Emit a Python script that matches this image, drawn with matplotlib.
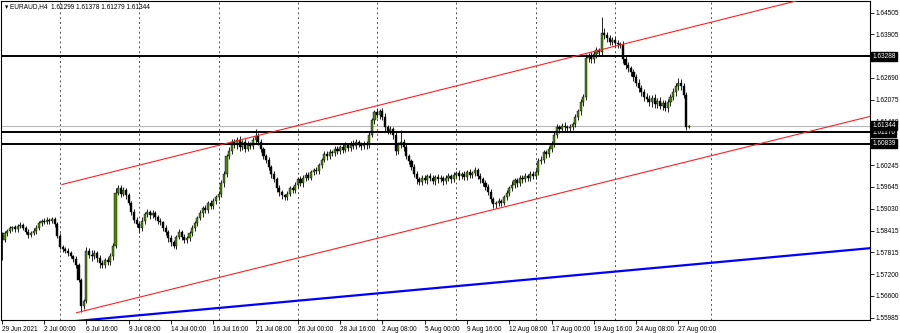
import matplotlib
matplotlib.use("Agg")
import matplotlib.pyplot as plt
import numpy as np

# ---------------------------------------------------------------
# EURAUD H4 - velas (29 Jun 08:00 -> 27 Aug 16:00)
# ---------------------------------------------------------------
first_open = 1.5830

closes = [
    1.5815, 1.5835, 1.5840, 1.5848, 1.5852, 1.5845, 1.5855, 1.5858, 1.5850, 1.5838,
    1.5830, 1.5835, 1.5842, 1.5850, 1.5862, 1.5870, 1.5866, 1.5872, 1.5868, 1.5874,
    1.5860, 1.5828, 1.5795, 1.5790, 1.5785, 1.5778, 1.5770, 1.5762, 1.5745, 1.5705,
    1.5630, 1.5645, 1.5785, 1.5775, 1.5770, 1.5778, 1.5765, 1.5752, 1.5745, 1.5760,
    1.5755, 1.5770, 1.5800, 1.5948, 1.5960, 1.5945, 1.5955, 1.5940, 1.5920, 1.5895,
    1.5872, 1.5860, 1.5848, 1.5870, 1.5888, 1.5895, 1.5885, 1.5890, 1.5880, 1.5870,
    1.5865, 1.5850, 1.5838, 1.5820, 1.5810, 1.5800, 1.5825, 1.5838, 1.5825, 1.5815,
    1.5822, 1.5835, 1.5850, 1.5862, 1.5878, 1.5890, 1.5905, 1.5900, 1.5918, 1.5910,
    1.5925, 1.5935, 1.5945, 1.5975, 1.6000, 1.6050, 1.6065, 1.6090, 1.6080, 1.6095,
    1.6075, 1.6088, 1.6070, 1.6082, 1.6078, 1.6095, 1.6105, 1.6090, 1.6070, 1.6050,
    1.6040, 1.6020, 1.6000, 1.5985, 1.5960, 1.5950, 1.5940, 1.5935, 1.5945, 1.5960,
    1.5955, 1.5970, 1.5985, 1.5975, 1.5990, 1.5998, 1.5990, 1.6005, 1.6012, 1.6008,
    1.6025, 1.6040, 1.6055, 1.6050, 1.6062, 1.6058, 1.6070, 1.6065, 1.6075, 1.6068,
    1.6080, 1.6072, 1.6085, 1.6078, 1.6090, 1.6082, 1.6078, 1.6085, 1.6080, 1.6110,
    1.6150, 1.6172, 1.6165, 1.6175, 1.6160, 1.6130, 1.6120, 1.6125, 1.6110, 1.6065,
    1.6080, 1.6090, 1.6075, 1.6050, 1.6035, 1.6020, 1.6000, 1.5985, 1.5978, 1.5990,
    1.5982, 1.5995, 1.5988, 1.5980, 1.5992, 1.5985, 1.5990, 1.5980, 1.5988, 1.5995,
    1.5985, 1.5998, 1.6002, 1.5995, 1.6000, 1.5992, 1.6005, 1.5998, 1.6003, 1.6010,
    1.5995, 1.5985, 1.5975, 1.5965, 1.5950, 1.5930, 1.5915, 1.5918, 1.5925, 1.5920,
    1.5935, 1.5948, 1.5960, 1.5970, 1.5982, 1.5975, 1.5990, 1.5985, 1.5995, 1.5990,
    1.6000, 1.5995, 1.6005, 1.6035, 1.6040, 1.6060, 1.6055, 1.6070, 1.6085, 1.6110,
    1.6130, 1.6125, 1.6135, 1.6130, 1.6128, 1.6132, 1.6140, 1.6160, 1.6175, 1.6200,
    1.6215, 1.6325, 1.6330, 1.6320, 1.6335, 1.6345, 1.6340, 1.6395, 1.6388, 1.6380,
    1.6370, 1.6375, 1.6365, 1.6362, 1.6360, 1.6320, 1.6305, 1.6295, 1.6285, 1.6270,
    1.6255, 1.6240, 1.6228, 1.6215, 1.6210, 1.6200, 1.6212, 1.6195, 1.6205, 1.6190,
    1.6198, 1.6185, 1.6200, 1.6215, 1.6230, 1.6245, 1.6255, 1.6245, 1.6220, 1.61299,
    1.61344,
]

# mechas superior / inferior en pips (0.0001)
wick_up = [
    8, 6, 5, 7, 4, 6, 5, 8, 6, 5,
    7, 5, 6, 8, 6, 5, 7, 9, 6, 5,
    6, 5, 8, 6, 5, 7, 6, 5, 8, 6,
    5, 6, 10, 8, 12, 9, 7, 10, 8, 6,
    7, 9, 6, 12, 9, 8, 10, 6, 7, 5,
    6, 8, 7, 10, 6, 8, 5, 9, 7, 6,
    8, 5, 7, 6, 9, 6, 5, 8, 6, 7,
    6, 5, 7, 8, 6, 9, 5, 7, 6, 8,
    7, 6, 8, 9, 7, 6, 10, 8, 9, 7,
    12, 8, 10, 9, 7, 8, 20, 9, 8, 6,
    7, 8, 6, 9, 7, 8, 6, 5, 8, 7,
    6, 8, 7, 9, 6, 8, 7, 5, 6, 8,
    7, 6, 9, 8, 7, 6, 8, 7, 6, 9,
    8, 7, 6, 9, 7, 6, 8, 7, 6, 8,
    7, 6, 12, 6, 8, 9, 7, 8, 6, 9,
    8, 33, 7, 8, 6, 7, 8, 9, 6, 7,
    8, 6, 7, 9, 6, 8, 7, 5, 8, 7,
    6, 8, 7, 9, 6, 8, 7, 9, 6, 10,
    8, 7, 6, 9, 7, 8, 6, 7, 8, 6,
    7, 8, 6, 9, 7, 8, 6, 7, 8, 6,
    7, 9, 8, 10, 9, 8, 7, 9, 8, 7,
    9, 8, 7, 9, 8, 7, 6, 8, 7, 9,
    8, 10, 8, 12, 9, 10, 8, 43, 12, 10,
    9, 8, 10, 9, 8, 12, 10, 9, 8, 9,
    8, 10, 9, 8, 12, 10, 9, 11, 8, 10,
    9, 8, 10, 9, 11, 10, 12, 9, 10, 8,
    3,
]
wick_dn = [
    55, 6, 8, 5, 7, 6, 8, 5, 6, 7,
    8, 6, 5, 9, 6, 7, 5, 6, 8, 6,
    7, 6, 5, 8, 6, 7, 5, 9, 8, 6,
    15, 8, 6, 9, 12, 8, 10, 14, 9, 8,
    10, 8, 9, 6, 8, 10, 7, 9, 8, 10,
    9, 7, 12, 8, 9, 7, 10, 8, 9, 11,
    7, 9, 8, 10, 12, 8, 9, 7, 10, 8,
    9, 8, 7, 9, 8, 7, 9, 8, 10, 9,
    8, 10, 9, 8, 12, 9, 8, 10, 7, 9,
    10, 8, 9, 7, 9, 8, 9, 10, 8, 9,
    8, 9, 10, 8, 9, 12, 10, 9, 8, 7,
    8, 7, 9, 8, 10, 9, 8, 7, 9, 8,
    9, 8, 7, 10, 9, 8, 7, 9, 8, 10,
    7, 9, 8, 7, 9, 8, 10, 8, 9, 7,
    8, 9, 10, 12, 9, 10, 8, 9, 11, 12,
    9, 8, 10, 9, 8, 10, 9, 12, 10, 9,
    8, 10, 9, 8, 11, 9, 8, 10, 9, 8,
    10, 8, 9, 11, 8, 9, 10, 8, 9, 8,
    9, 10, 8, 9, 10, 8, 9, 10, 8, 9,
    8, 9, 10, 8, 9, 10, 8, 9, 8, 10,
    9, 8, 10, 9, 8, 9, 10, 8, 9, 10,
    9, 10, 8, 9, 10, 8, 9, 10, 8, 9,
    10, 9, 12, 10, 9, 11, 10, 9, 10, 12,
    10, 9, 11, 10, 9, 10, 12, 11, 10, 9,
    10, 12, 9, 11, 10, 9, 12, 10, 11, 9,
    10, 9, 11, 10, 9, 12, 10, 11, 9, 8,
    2,
]

# eje de tiempo: etiquetas cada 16 velas
time_labels = ["29 Jun 2021", "2 Jul 00:00", "6 Jul 16:00", "9 Jul 08:00",
               "14 Jul 00:00", "16 Jul 16:00", "21 Jul 08:00", "26 Jul 00:00",
               "28 Jul 16:00", "2 Aug 08:00", "5 Aug 00:00", "9 Aug 16:00",
               "12 Aug 08:00", "17 Aug 00:00", "19 Aug 16:00", "24 Aug 08:00",
               "27 Aug 00:00"]
week_bars = [22, 52, 82, 112, 142, 172, 202, 232, 268.3]

price_ticks = [1.64505, 1.63905, 1.62690, 1.62075, 1.61460, 1.60245, 1.59645,
               1.59030, 1.58415, 1.57815, 1.57200, 1.56600, 1.55985]

# niveles horizontales y lineas de tendencia (extremos en vela, precio)
levels = [1.63288, 1.61170, 1.60839]
bid = 1.61344
channel_up = [(22.75, 1.59706), (298.2, 1.64790)]
channel_dn = [(28.3, 1.56125), (328.5, 1.61608)]
blue_line = [(35.2, 1.55940), (328.5, 1.57927)]

# ---------------------------------------------------------------
closes = np.array(closes)
opens = np.concatenate([[first_open], closes[:-1]])
highs = np.maximum(opens, closes) + np.array(wick_up) * 0.0001
lows = np.minimum(opens, closes) - np.array(wick_dn) * 0.0001
idx = np.arange(len(closes))

FS = 4.7
plt.rcParams["font.family"] = ["Liberation Sans", "DejaVu Sans"]
fig = plt.figure(figsize=(9, 3.33), dpi=100)
ax = fig.add_axes([1 / 900, 13.5 / 333, 869 / 900, 318.5 / 333])
ax.set_xlim(-0.33, 328.5)
ax.set_ylim(1.55935, 1.64832)

for gx in week_bars:
    ax.axvline(gx, color="#505050", lw=0.7, ls=(0, (2, 3)), zorder=1)

ax.vlines(idx, lows, highs, color="#202020", lw=0.7, zorder=3)
up = closes >= opens
body_h = np.maximum(np.abs(closes - opens), 0.00004)
body_b = np.minimum(opens, closes)
ax.bar(idx[up], body_h[up], bottom=body_b[up], width=0.8, color="#4a8a00",
       edgecolor="black", linewidth=0.3, zorder=4)
ax.bar(idx[~up], body_h[~up], bottom=body_b[~up], width=0.8, color="black",
       edgecolor="black", linewidth=0.3, zorder=4)

for lv in levels:
    ax.axhline(lv, color="black", lw=1.4, zorder=5)
ax.axhline(bid, color="#b8b8b8", lw=0.8, zorder=2)


def ray(p, x_end=330):
    (x0, y0), (x1, y1) = p
    k = (y1 - y0) / (x1 - x0)
    return [x0, x_end], [y0, y0 + k * (x_end - x0)]


xs, ys = ray(channel_up)
ax.plot(xs, ys, color="#ff2020", lw=0.8, zorder=6)
xs, ys = ray(channel_dn)
ax.plot(xs, ys, color="#ff2020", lw=0.8, zorder=6)
(bx0, by0), (bx1, by1) = blue_line
kb = (by1 - by0) / (bx1 - bx0)
ax.plot([0, 330], [by0 - kb * bx0, by0 + kb * (330 - bx0)], color="#0000ff",
        lw=1.6, zorder=6)

# ejes
ax.set_xticks(range(0, 257, 16))
ax.set_xticklabels(time_labels, fontsize=FS, ha="left")
ax.tick_params(axis="x", length=3, width=0.6, pad=1.5)
ax.yaxis.tick_right()
ax.set_yticks(price_ticks)
ax.set_yticklabels([f"{v:.5f}" for v in price_ticks], fontsize=FS)
ax.tick_params(axis="y", length=3, width=0.6, pad=1)
for s in ax.spines.values():
    s.set_linewidth(0.8)

ytr = ax.get_yaxis_transform()
for v in [1.63288, 1.60839, 1.61170, bid]:
    ax.text(1.0025, v, f"{v:.5f}", transform=ytr, fontsize=FS, color="white",
            va="center", ha="left", clip_on=False, zorder=10,
            bbox=dict(boxstyle="square,pad=0.15", fc="black", ec="black"))

fig.text(5 / 900, 1 - 6.5 / 333, "\u25be EURAUD,H4  1.61299 1.61378 1.61279 1.61344",
         fontsize=FS, va="center", ha="left")

fig.savefig("out.png", dpi=100, facecolor="white")
